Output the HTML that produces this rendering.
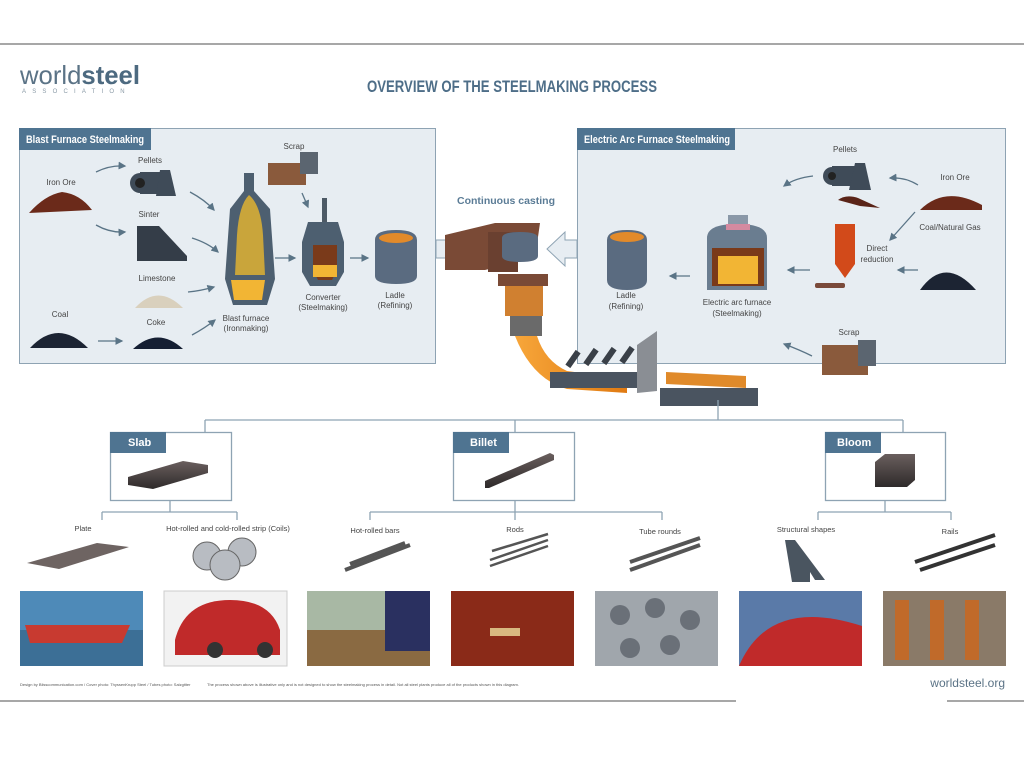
<!DOCTYPE html>
<html><head><meta charset="utf-8"><style>
html,body{margin:0;padding:0;background:#fff;}
svg{display:block;font-family:"Liberation Sans",sans-serif;}
</style></head><body>
<svg width="1024" height="767" viewBox="0 0 1024 767" xmlns="http://www.w3.org/2000/svg">
<defs>
<marker id="ar" markerWidth="6" markerHeight="6" refX="5" refY="3" orient="auto"><path d="M0,0 L6,3 L0,6 z" fill="#5a7486"/></marker>
<linearGradient id="slab" x1="0" y1="0" x2="0" y2="1"><stop offset="0" stop-color="#6a5f5e"/><stop offset="1" stop-color="#2e2a2a"/></linearGradient>
<linearGradient id="orng" x1="0" y1="0" x2="1" y2="0"><stop offset="0" stop-color="#f7a63a"/><stop offset="1" stop-color="#e07a12"/></linearGradient>
</defs>
<rect width="1024" height="767" fill="#fff"/>
<line x1="0" y1="44" x2="1024" y2="44" stroke="#8a8a8a" stroke-width="1.5"/>
<line x1="0" y1="701" x2="736" y2="701" stroke="#8a8a8a" stroke-width="1.5"/>
<line x1="947" y1="701" x2="1024" y2="701" stroke="#8a8a8a" stroke-width="1.5"/>

<!-- logo -->
<text x="20" y="84" font-size="26" fill="#5b7386" textLength="120" lengthAdjust="spacingAndGlyphs">world<tspan font-weight="bold" fill="#4d6a80">steel</tspan></text>
<text x="22" y="93" font-size="6" fill="#8a9aa6" letter-spacing="6.2">ASSOCIATION</text>
<text x="367" y="92" font-size="17" font-weight="bold" fill="#4e6e88" textLength="290" lengthAdjust="spacingAndGlyphs">OVERVIEW OF THE STEELMAKING PROCESS</text>

<!-- left panel -->
<rect x="19.5" y="128.5" width="416" height="235" fill="#e7edf2" stroke="#8ea3b3"/>
<rect x="19" y="128" width="132" height="22" fill="#4f7491"/>
<text x="26" y="143" font-size="11" font-weight="bold" fill="#fff" textLength="118" lengthAdjust="spacingAndGlyphs">Blast Furnace Steelmaking</text>
<g font-size="8" fill="#444" text-anchor="middle">
<text x="61" y="185">Iron Ore</text><text x="150" y="163">Pellets</text><text x="149" y="217">Sinter</text>
<text x="157" y="281">Limestone</text><text x="60" y="317">Coal</text><text x="156" y="325">Coke</text>
<text x="294" y="149">Scrap</text>
<text x="246" y="321">Blast furnace</text><text x="246" y="331">(Ironmaking)</text>
<text x="323" y="300">Converter</text><text x="323" y="310">(Steelmaking)</text>
<text x="395" y="298">Ladle</text><text x="395" y="308">(Refining)</text>
</g>
<!-- left icons -->
<path d="M29,213 Q45,195 62,192 Q80,194 92,210 Z" fill="#6b2a1a"/>
<g fill="#3f4b58"><circle cx="140" cy="183" r="10"/><rect x="140" y="172" width="26" height="22"/><path d="M160,170 h10 l6,26 h-20z"/></g><circle cx="140" cy="183" r="5" fill="#222"/>
<path d="M137,226 h22 l28,30 v5 h-50z" fill="#343d48"/>
<path d="M135,308 Q158,283 183,308 Z" fill="#d9d0bd"/>
<path d="M30,348 Q58,318 88,348 Z" fill="#1c2433"/>
<path d="M133,349 Q158,326 183,349 Z" fill="#151f33"/>
<path d="M244,173 h10 v18 l16,18 l5,70 l-8,26 h-34 l-8,-26 l5,-70 l14,-18z" fill="#4d5f70"/>
<path d="M249,195 q12,10 14,40 l2,40 h-30 l2,-40 q2,-30 12,-40z" fill="#c9a53b"/>
<path d="M231,280 h34 l-3,20 h-28z" fill="#f2b534"/>
<rect x="268" y="163" width="38" height="22" fill="#8a5a3c"/><rect x="300" y="152" width="18" height="22" fill="#5b6570"/>
<rect x="322" y="198" width="5" height="40" fill="#4d5a66"/>
<path d="M308,222 h30 l6,20 v30 l-8,14 h-26 l-8,-14 v-30z" fill="#4d5f70"/>
<path d="M313,245 h24 v25 l-5,10 h-14 l-5,-10z" fill="#7a3a1a"/><rect x="313" y="265" width="24" height="12" fill="#f2b534"/>
<path d="M375,240 Q375,230 396,230 Q417,230 417,240 v36 q0,8 -21,8 q-21,0 -21,-8z" fill="#5a6b80"/>
<ellipse cx="396" cy="238" rx="17" ry="5" fill="#e28a2a"/>
<!-- arrows left -->
<g stroke="#5a7486" stroke-width="1.3" fill="none" marker-end="url(#ar)">
<path d="M96,172 Q110,165 125,166"/><path d="M96,225 Q110,233 125,232"/>
<path d="M190,192 Q205,200 214,210"/><path d="M192,238 Q208,243 218,252"/>
<path d="M188,292 Q200,291 214,287"/><path d="M192,335 Q205,328 215,320"/>
<path d="M98,341 h24"/><path d="M275,258 h20"/><path d="M350,258 h18"/><path d="M302,193 l6,14"/>
</g>

<!-- right panel -->
<rect x="577.5" y="128.5" width="428" height="235" fill="#e7edf2" stroke="#8ea3b3"/>
<rect x="577" y="128" width="158" height="22" fill="#4f7491"/>
<text x="584" y="143" font-size="11" font-weight="bold" fill="#fff" textLength="146" lengthAdjust="spacingAndGlyphs">Electric Arc Furnace Steelmaking</text>
<g font-size="8" fill="#444" text-anchor="middle">
<text x="845" y="152">Pellets</text><text x="955" y="180">Iron Ore</text><text x="950" y="230">Coal/Natural Gas</text>
<text x="877" y="251">Direct</text><text x="877" y="262">reduction</text><text x="849" y="335">Scrap</text>
<text x="737" y="305">Electric arc furnace</text><text x="737" y="316">(Steelmaking)</text>
<text x="626" y="298">Ladle</text><text x="626" y="309">(Refining)</text>
</g>
<text x="506" y="204" font-size="10.5" font-weight="bold" fill="#5b7c96" text-anchor="middle">Continuous casting</text>
<g fill="#3f4b58"><circle cx="832" cy="176" r="9"/><rect x="832" y="166" width="28" height="20"/><path d="M855,163 h10 l6,27 h-22z"/></g><circle cx="832" cy="176" r="4" fill="#222"/>
<path d="M920,210 Q945,185 982,205 L982,210 Z" fill="#6b2a1a"/>
<path d="M920,290 Q945,255 976,290 Z" fill="#1c2433"/>
<path d="M835,224 h20 v40 l-10,14 l-10,-14z" fill="#d24a1a"/><path d="M838,200 q8,-6 20,-2 l22,10 l-20,-2z" fill="#5a2418"/>
<rect x="815" y="283" width="30" height="5" rx="2" fill="#7a4a3a"/>
<path d="M707,238 q0,-14 30,-14 q30,0 30,14 v52 h-60z" fill="#6a7d90"/>
<rect x="728" y="215" width="20" height="14" fill="#8a98a8"/><rect x="726" y="224" width="24" height="6" fill="#d48aa0"/>
<rect x="712" y="248" width="52" height="38" fill="#7a3a1a"/><rect x="718" y="256" width="40" height="28" fill="#f2b534"/>
<path d="M607,240 Q607,230 627,230 Q647,230 647,240 v40 q0,10 -20,10 q-20,0 -20,-10z" fill="#5a6b80"/>
<ellipse cx="627" cy="237" rx="17" ry="5" fill="#e28a2a"/>
<rect x="822" y="345" width="46" height="30" fill="#8a5a3c"/><rect x="858" y="340" width="18" height="26" fill="#5b6570"/>
<g stroke="#5a7486" stroke-width="1.3" fill="none" marker-end="url(#ar)">
<path d="M813,176 Q795,178 784,186"/><path d="M918,185 Q905,177 890,178"/><path d="M915,212 L890,240"/>
<path d="M918,270 h-20"/><path d="M810,270 h-22"/><path d="M690,276 h-20"/><path d="M812,356 Q800,350 784,344"/>
</g>
<!-- big hollow arrows -->
<path d="M436,240 h30 v-8 l20,17 l-20,17 v-8 h-30z" fill="#e7edf2" stroke="#8ea3b3"/>
<path d="M577,240 h-12 v-8 l-18,17 l18,17 v-8 h12z" fill="#e7edf2" stroke="#8ea3b3"/>
<!-- casting machine -->
<path d="M445,235 l50,-12 h45 l-5,35 l-50,12 h-40z" fill="#7a4a36"/>
<rect x="488" y="232" width="30" height="40" fill="#6a4030"/>
<path d="M502,238 q0,-6 18,-6 q18,0 18,6 v18 q0,6 -18,6 q-18,0 -18,-6z" fill="#5a6b80"/>
<rect x="498" y="274" width="50" height="12" fill="#7a4a36"/>
<rect x="505" y="286" width="38" height="30" fill="#d08030"/>
<rect x="510" y="316" width="32" height="20" fill="#6a6a6a"/>
<path d="M515,336 h22 q8,25 30,35 l60,8 v14 l-60,-4 q-35,-10 -52,-53z" fill="url(#orng)"/>
<rect x="550" y="372" width="100" height="16" fill="#4a5460"/>
<g fill="#3a4048"><rect x="570" y="350" width="6" height="18" transform="rotate(35 573 359)"/><rect x="588" y="348" width="6" height="18" transform="rotate(35 591 357)"/><rect x="606" y="347" width="6" height="18" transform="rotate(35 609 356)"/><rect x="624" y="346" width="6" height="18" transform="rotate(35 627 355)"/></g>
<path d="M637,345 l20,-14 v60 l-20,2z" fill="#8a8e94"/>
<rect x="660" y="388" width="98" height="18" fill="#4a5460"/>
<path d="M666,372 l80,4 v12 l-80,-4z" fill="#e08a2a"/>

<!-- tree -->
<g stroke="#8ea3b3" stroke-width="1.3" fill="none">
<line x1="718" y1="400" x2="718" y2="420"/>
<line x1="205" y1="420" x2="903" y2="420"/>
<line x1="205" y1="420" x2="205" y2="432"/><line x1="515" y1="420" x2="515" y2="432"/><line x1="903" y1="420" x2="903" y2="432"/>
<rect x="110.5" y="432.5" width="121" height="68" fill="#fff"/>
<rect x="453.5" y="432.5" width="121" height="68" fill="#fff"/>
<rect x="825.5" y="432.5" width="120" height="68" fill="#fff"/>
<line x1="170" y1="500" x2="170" y2="512"/><line x1="102" y1="512" x2="237" y2="512"/><line x1="102" y1="512" x2="102" y2="520"/><line x1="237" y1="512" x2="237" y2="520"/>
<line x1="515" y1="500" x2="515" y2="512"/><line x1="370" y1="512" x2="662" y2="512"/><line x1="370" y1="512" x2="370" y2="520"/><line x1="515" y1="512" x2="515" y2="520"/><line x1="662" y1="512" x2="662" y2="520"/>
<line x1="885" y1="500" x2="885" y2="512"/><line x1="818" y1="512" x2="951" y2="512"/><line x1="818" y1="512" x2="818" y2="520"/><line x1="951" y1="512" x2="951" y2="520"/>
</g>
<rect x="110" y="432" width="56" height="21" fill="#4f7491"/><rect x="453" y="432" width="56" height="21" fill="#4f7491"/><rect x="825" y="432" width="56" height="21" fill="#4f7491"/>
<g font-size="11" fill="#fff" font-weight="bold"><text x="128" y="446">Slab</text><text x="470" y="446">Billet</text><text x="837" y="446">Bloom</text></g>
<path d="M128,477 l55,-16 l25,4 v8 l-55,16 l-25,-4z" fill="url(#slab)"/>
<path d="M485,481 l65,-28 l4,2 v5 l-65,28 h-4z" fill="url(#slab)"/>
<path d="M875,462 l10,-8 h30 v26 l-8,7 h-32z" fill="url(#slab)"/>
<g font-size="7.5" fill="#444" text-anchor="middle">
<text x="83" y="531">Plate</text><text x="228" y="531">Hot-rolled and cold-rolled strip (Coils)</text>
<text x="375" y="533">Hot-rolled bars</text><text x="515" y="532">Rods</text><text x="660" y="534">Tube rounds</text>
<text x="806" y="532">Structural shapes</text><text x="950" y="534">Rails</text>
</g>
<path d="M27,563 l70,-20 l32,4 l-70,22z" fill="#6e6462"/>
<g fill="#b8bcc2" stroke="#666"><circle cx="207" cy="556" r="14"/><circle cx="242" cy="552" r="14"/><circle cx="225" cy="565" r="15"/></g>
<g stroke="#555" stroke-width="4"><line x1="345" y1="570" x2="410" y2="545"/><line x1="350" y1="564" x2="405" y2="543"/></g>
<g stroke="#555" stroke-width="2.5"><line x1="490" y1="560" x2="548" y2="540"/><line x1="490" y1="566" x2="548" y2="546"/><line x1="492" y1="551" x2="548" y2="534"/></g>
<g stroke="#555" stroke-width="4"><line x1="630" y1="570" x2="700" y2="545"/><line x1="630" y1="562" x2="700" y2="538"/></g>
<path d="M785,540 h10 l30,40 h-10 l-5,-8 v10 h-18z" fill="#4a5560"/>
<g stroke="#333" stroke-width="4"><line x1="915" y1="562" x2="995" y2="535"/><line x1="920" y1="570" x2="995" y2="545"/></g>

<!-- photos -->
<rect x="20" y="591" width="123" height="75" fill="#4e8ab8"/><rect x="20" y="630" width="123" height="36" fill="#3c6f96"/><path d="M25,625 h105 l-8,18 h-92z" fill="#c83a30"/>
<rect x="164" y="591" width="123" height="75" fill="#f2f2f2" stroke="#ccc"/><path d="M175,640 q10,-40 55,-40 q40,0 50,30 v25 h-105z" fill="#c02a2a"/><circle cx="215" cy="650" r="8" fill="#333"/><circle cx="265" cy="650" r="8" fill="#333"/>
<rect x="307" y="591" width="123" height="75" fill="#a8b8a4"/><rect x="307" y="630" width="123" height="36" fill="#8a6a42"/><rect x="385" y="591" width="45" height="60" fill="#2a3060"/>
<rect x="451" y="591" width="123" height="75" fill="#8a2a18"/><rect x="490" y="628" width="30" height="8" fill="#d8b880"/>
<rect x="595" y="591" width="123" height="75" fill="#a0a6ac"/><g fill="#6a7078"><circle cx="620" cy="615" r="10"/><circle cx="655" cy="608" r="10"/><circle cx="690" cy="620" r="10"/><circle cx="630" cy="648" r="10"/><circle cx="670" cy="645" r="10"/></g>
<rect x="739" y="591" width="123" height="75" fill="#5a7aa8"/><path d="M739,666 q30,-70 123,-40 v40z" fill="#c02a2a"/>
<rect x="883" y="591" width="123" height="75" fill="#8a7a68"/><g fill="#c06a2a"><rect x="895" y="600" width="14" height="60"/><rect x="930" y="600" width="14" height="60"/><rect x="965" y="600" width="14" height="60"/></g>

<text x="20" y="686" font-size="4" fill="#555">Design by Blisscommunication.com / Cover photo: ThyssenKrupp Steel / Tubes photo: Salzgitter</text>
<text x="207" y="686" font-size="4" fill="#555">The process shown above is illustrative only and is not designed to show the steelmaking process in detail. Not all steel plants produce all of the products shown in this diagram.</text>
<text x="1005" y="687" font-size="12" fill="#5b7386" text-anchor="end">worldsteel.org</text>
</svg>
</body></html>
